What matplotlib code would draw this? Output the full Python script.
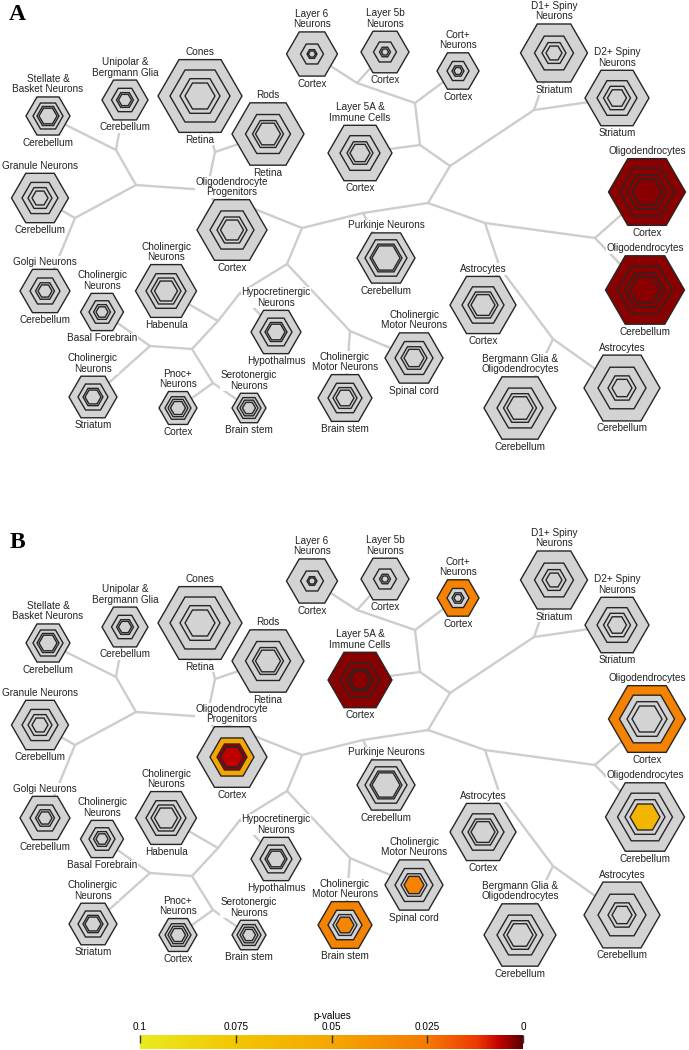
import numpy as np
import matplotlib
matplotlib.use("Agg")
import matplotlib.pyplot as plt
from matplotlib.patches import RegularPolygon
from matplotlib.colors import LinearSegmentedColormap, Normalize
from matplotlib.cm import ScalarMappable

nan = np.nan

# cell types (label above the hexagon) and tissue (label below)
CELL_TYPES = [
    "Stellate &\nBasket Neurons", "Unipolar &\nBergmann Glia", "Cones", "Rods",
    "Layer 6\nNeurons", "Layer 5b\nNeurons", "Cort+\nNeurons", "D1+ Spiny\nNeurons",
    "D2+ Spiny\nNeurons", "Granule Neurons", "Oligodendrocyte\nProgenitors",
    "Layer 5A &\nImmune Cells", "Oligodendrocytes", "Oligodendrocytes",
    "Purkinje Neurons", "Golgi Neurons", "Cholinergic\nNeurons", "Cholinergic\nNeurons",
    "Hypocretinergic\nNeurons", "Astrocytes", "Cholinergic\nMotor Neurons",
    "Cholinergic\nMotor Neurons", "Cholinergic\nNeurons", "Pnoc+\nNeurons",
    "Serotonergic\nNeurons", "Bergmann Glia &\nOligodendrocytes", "Astrocytes",
]
TISSUES = [
    "Cerebellum", "Cerebellum", "Retina", "Retina", "Cortex", "Cortex", "Cortex",
    "Striatum", "Striatum", "Cerebellum", "Cortex", "Cortex", "Cortex", "Cerebellum",
    "Cerebellum", "Cerebellum", "Basal Forebrain", "Habenula", "Hypothalmus", "Cortex",
    "Spinal cord", "Brain stem", "Striatum", "Cortex", "Brain stem", "Cerebellum",
    "Cerebellum",
]

# four nested gene-set sizes per cell type (outer -> inner hexagon)
RING_SIZES = [
    [22, 15, 11, 9], [23, 13.5, 8.5, 6.5], [42, 30, 20, 15], [36, 22.5, 15.5, 12.5],
    [25.5, 11.5, 5, 3.5], [24, 11.5, 5.5, 3.5], [21, 11, 6, 4], [33.5, 19.5, 12, 8],
    [32, 20, 13.5, 9.5], [28.5, 18, 12, 8], [35, 22, 15, 11.5], [32, 20, 13, 10],
    [38.5, 27.5, 20, 15], [39.5, 27.5, 20, 15], [29, 21, 16, 14], [25, 15, 9.5, 7],
    [21.5, 13, 8.5, 6], [30.5, 20, 15, 11.5], [25, 16, 11, 9], [33, 21, 15, 12],
    [29, 19, 13, 10], [27, 17, 12, 9], [24, 15, 10, 8], [19, 13, 10, 7.5],
    [17, 12, 9, 6.5], [36, 23, 16.5, 13], [38, 24, 14, 10],
]

# significant p-values per ring (others not significant -> grey)
PVAL_A = {
    12: [0.003, 0.003, 0.003, 0.003],
    13: [0.003, 0.003, 0.003, 0.003],
}
PVAL_B = {
    6: [0.03, nan, nan, nan],
    10: [nan, 0.05, 0.004, 0.006],
    11: [0.003, 0.003, 0.003, 0.003],
    12: [0.03, nan, nan, nan],
    13: [nan, nan, nan, 0.062],
    20: [nan, nan, nan, 0.03],
    21: [0.03, nan, nan, 0.032],
}

CBAR_TICKS = [0.1, 0.075, 0.05, 0.025, 0]

# ---- layout (pixel coordinates of panel A; panel B is shifted down) ----
NODE_XY = [
    (48, 116), (125, 100), (200, 96), (268, 134), (312, 54), (385, 52), (458, 71),
    (554, 53), (617, 98), (40, 198), (232, 230), (360, 153), (647, 192), (645, 290),
    (386, 258), (45, 291), (102, 312), (166, 291), (276, 332), (483, 305), (414, 358),
    (345, 398), (93, 397), (178, 408), (249, 408), (520, 408), (622, 388),
]
JUNCTIONS = {
    "j1": (116, 150), "j2": (136, 185), "j3": (75, 218), "jc": (215, 152),
    "j5": (207, 190), "j4": (302, 228), "j6": (357, 83), "j7": (415, 103),
    "j8": (420, 145), "j9": (450, 166), "j10": (534, 110), "j11": (428, 203),
    "j12": (363, 213), "j13": (485, 223), "j14": (595, 238), "j15": (553, 339),
    "j16": (500, 268), "j17": (287, 264), "j18": (218, 321), "j19": (192, 349),
    "j20": (240, 293), "j21": (150, 346), "j22": (213, 383), "j23": (350, 331),
}
EDGES = [
    ("j1", 0), ("j1", 1), ("j1", "j2"), ("j2", "j3"), ("j2", "j5"),
    ("j3", 9), ("j3", 15), ("jc", 2), ("jc", 3), ("jc", "j5"),
    ("j5", 10), ("j5", "j4"), ("j4", "j12"), ("j4", "j17"),
    ("j6", 4), ("j6", 5), ("j6", "j7"), ("j7", 6), ("j7", "j8"),
    ("j8", 11), ("j8", "j9"), ("j9", "j10"), ("j9", "j11"),
    ("j10", 7), ("j10", 8), ("j11", "j12"), ("j11", "j13"), ("j12", 14),
    ("j13", "j14"), ("j13", "j16"), ("j14", 12), ("j14", 13),
    ("j16", 19), ("j16", "j15"), ("j15", 25), ("j15", 26),
    ("j17", "j20"), ("j17", "j23"), ("j20", 18), ("j20", "j18"),
    ("j18", 17), ("j18", "j19"), ("j19", "j21"), ("j19", "j22"),
    ("j21", 16), ("j21", 22), ("j22", 23), ("j22", 24),
    ("j23", 20), ("j23", 21),
]
PANEL_DY = {"A": 0, "B": 527}

CMAP = LinearSegmentedColormap.from_list("pval", [
    (0.0, "#5a0000"), (0.06, "#c00000"), (0.12, "#ee3a00"), (0.25, "#f57a00"),
    (0.5, "#f6a600"), (0.75, "#f2c600"), (1.0, "#eaea20"),
])
NORM = Normalize(0, 0.1)
GREY = "#d3d3d3"
FONT = "Liberation Sans"


def point(key, dy):
    x, y = NODE_XY[key] if isinstance(key, int) else JUNCTIONS[key]
    return x, y + dy


def draw_panel(ax, letter, pvals):
    dy = PANEL_DY[letter]
    for a, b in EDGES:
        (x0, y0), (x1, y1) = point(a, dy), point(b, dy)
        ax.plot([x0, x1], [y0, y1], color="#cdcdcd", lw=1.7,
                solid_capstyle="round", zorder=1)
    for i, (cx, cy) in enumerate(NODE_XY):
        cy += dy
        sizes = RING_SIZES[i]
        ps = pvals.get(i, [nan] * 4)
        for r, p in zip(sizes, ps):
            fc = GREY if np.isnan(p) else CMAP(NORM(p))
            ax.add_patch(RegularPolygon((cx, cy), 6, radius=r, orientation=np.pi / 6,
                                        fc=fc, ec="#262626", lw=1.0, zorder=3))
        h = sizes[0] * np.sqrt(3) / 2
        box = dict(fc="white", ec="none", pad=0.4)
        ax.text(cx, cy - h - 2.5, CELL_TYPES[i], ha="center", va="bottom",
                fontsize=7.2, family=FONT, color="#222222", linespacing=1.05,
                bbox=box, zorder=2)
        ax.text(cx, cy + h + 2.5, TISSUES[i], ha="center", va="top",
                fontsize=7.2, family=FONT, color="#222222", bbox=box, zorder=2)
    ax.text(17, 15 + dy, letter, ha="center", va="center", fontsize=17,
            family="Liberation Serif", fontweight="bold")


fig = plt.figure(figsize=(6.89, 10.5), dpi=100)
ax = fig.add_axes([0, 0, 1, 1])
ax.set_xlim(0, 689)
ax.set_ylim(1050, 0)
ax.axis("off")

draw_panel(ax, "A", PVAL_A)
draw_panel(ax, "B", PVAL_B)

# colour bar
cax = fig.add_axes([140 / 689, 1 / 1050, 383 / 689, 14 / 1050])
cb = fig.colorbar(ScalarMappable(norm=NORM, cmap=CMAP), cax=cax,
                  orientation="horizontal")
cb.outline.set_visible(False)
cax.invert_xaxis()
cb.set_ticks(CBAR_TICKS)
cb.set_ticklabels(["0.1", "0.075", "0.05", "0.025", "0"])
cax.xaxis.tick_top()
cax.tick_params(direction="in", length=6, width=1, color="#333333",
                labelsize=7.2, pad=2)
for t in cax.get_xticklabels():
    t.set_family(FONT)
ax.text(332, 1016, "p-values", ha="center", va="center", fontsize=7.2, family=FONT)

fig.savefig("out.png", dpi=100)
